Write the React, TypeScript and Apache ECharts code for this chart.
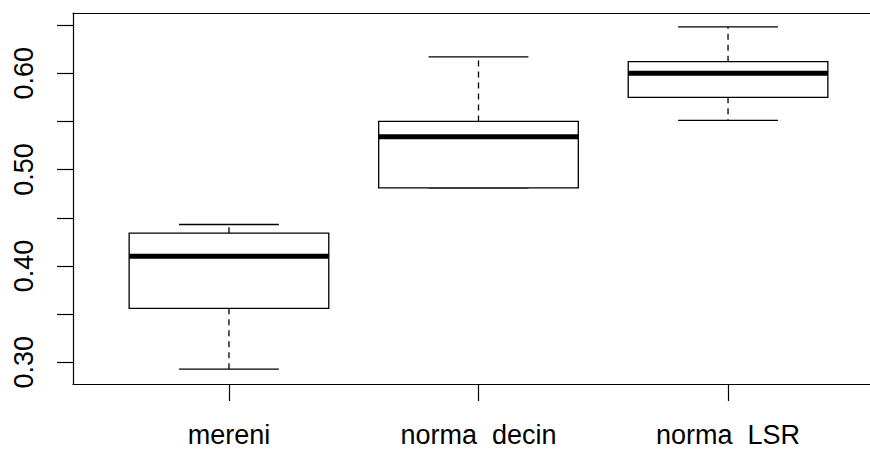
import React, { useEffect, useRef } from "react";
import * as echarts from "echarts";

const categories = ["mereni", "norma  decin", "norma  LSR"];
const positions = [1, 2, 3];
const lowerWhisker = [0.293, 0.481, 0.551];
const q1 = [0.356, 0.481, 0.575];
const median = [0.41, 0.534, 0.6];
const q3 = [0.434, 0.55, 0.612];
const upperWhisker = [0.443, 0.617, 0.648];
const yTicks = [0.3, 0.35, 0.4, 0.45, 0.5, 0.55, 0.6, 0.65];
const yLabels = [0.3, 0.4, 0.5, 0.6];

const FONT = "Liberation Sans, Arial, sans-serif";

export default function App() {
  const ref = useRef<HTMLDivElement>(null);
  useEffect(() => {
    if (!ref.current) return;
    const chart = echarts.init(ref.current, undefined, { renderer: "svg" });
    const data = positions.map((p, i) => [
      p,
      lowerWhisker[i],
      q1[i],
      median[i],
      q3[i],
      upperWhisker[i],
    ]);
    const frameLine = { show: true, lineStyle: { color: "#000", width: 1.2 } };
    chart.setOption({
      animation: false,
      backgroundColor: "#ffffff",
      grid: {
        left: 73,
        top: 13,
        right: 16,
        bottom: 65,
        show: false,
      },
      xAxis: [
        {
          type: "value",
          position: "bottom",
          min: 0.375,
          max: 3.625,
          axisLine: frameLine,
          axisTick: {
            show: true,
            customValues: positions,
            length: 17,
            lineStyle: { color: "#000", width: 1.2 },
          },
          axisLabel: {
            customValues: positions,
            formatter: (v: number) => categories[Math.round(v) - 1] ?? "",
            fontFamily: FONT,
            fontSize: 27,
            color: "#000",
            margin: 37,
          },
          splitLine: { show: false },
        },
        {
          type: "value",
          position: "top",
          min: 0.375,
          max: 3.625,
          axisLine: frameLine,
          axisTick: { show: false },
          axisLabel: { show: false },
          splitLine: { show: false },
        },
      ],
      yAxis: {
        type: "value",
        min: 0.2775,
        max: 0.6625,
        axisLine: frameLine,
        axisTick: {
          show: true,
          customValues: yTicks,
          length: 16,
          lineStyle: { color: "#000", width: 1.2 },
        },
        axisLabel: {
          customValues: yLabels,
          formatter: (v: number) => v.toFixed(2),
          rotate: 90,
          fontFamily: FONT,
          fontSize: 27,
          color: "#000",
          margin: 36,
        },
        splitLine: { show: false },
      },
      series: [
        {
          type: "custom",
          xAxisIndex: 0,
          data,
          encode: { x: 0, y: [1, 2, 3, 4, 5] },
          renderItem: (params: any, api: any) => {
            const x = api.value(0);
            const lw = api.value(1);
            const a = api.value(2);
            const m = api.value(3);
            const b = api.value(4);
            const uw = api.value(5);
            const half = api.size([0.8, 0])[0] / 2;
            const capHalf = half / 2;
            const pL = api.coord([x, lw]);
            const pA = api.coord([x, a]);
            const pM = api.coord([x, m]);
            const pB = api.coord([x, b]);
            const pU = api.coord([x, uw]);
            const cx = pM[0];
            const lineStyle = { stroke: "#000", lineWidth: 1.3 };
            const dashStyle = { stroke: "#000", lineWidth: 1.3, lineDash: [6, 5] };
            return {
              type: "group",
              children: [
                { type: "line", shape: { x1: cx, y1: pB[1], x2: cx, y2: pU[1] }, style: dashStyle },
                { type: "line", shape: { x1: cx, y1: pA[1], x2: cx, y2: pL[1] }, style: dashStyle },
                { type: "line", shape: { x1: cx - capHalf, y1: pU[1], x2: cx + capHalf, y2: pU[1] }, style: lineStyle },
                { type: "line", shape: { x1: cx - capHalf, y1: pL[1], x2: cx + capHalf, y2: pL[1] }, style: lineStyle },
                {
                  type: "rect",
                  shape: { x: cx - half, y: pB[1], width: half * 2, height: pA[1] - pB[1] },
                  style: { fill: "#fff", stroke: "#000", lineWidth: 1.3 },
                },
                { type: "line", shape: { x1: cx - half, y1: pM[1], x2: cx + half, y2: pM[1] }, style: { stroke: "#000", lineWidth: 5 } },
              ],
            };
          },
        },
      ],
    });
    return () => chart.dispose();
  }, []);
  return (
    <div style={{ position: "fixed", left: 0, top: 0, width: 870, height: 449, overflow: "hidden", background: "#fff" }}>
      <div ref={ref} style={{ width: 900, height: 449 }} />
    </div>
  );
}
